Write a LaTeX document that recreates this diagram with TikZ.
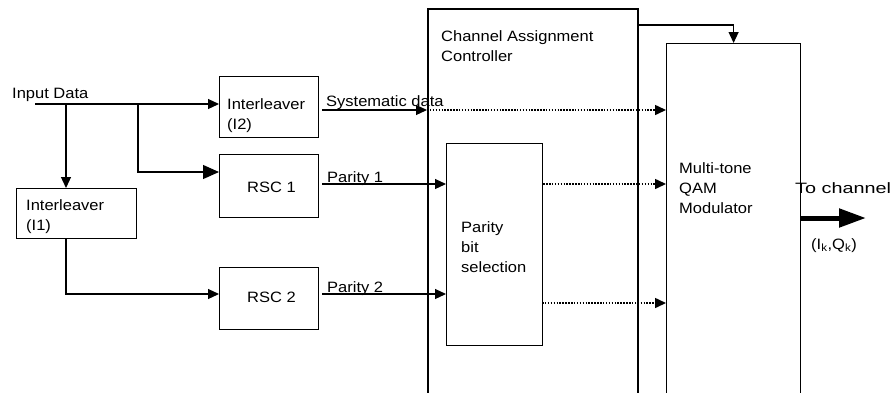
\documentclass[tikz,border=0pt]{standalone}
\usepackage{fontspec}
\setmainfont[FakeStretch=1.1]{Liberation Sans}
\usetikzlibrary{arrows.meta}
\begin{document}
\begin{tikzpicture}[x=1pt,y=-1pt,
  box/.style={draw,line width=1.2pt,inner sep=0pt,anchor=north west},
  txt/.style={inner sep=0pt,anchor=base west,align=left,font=\fontsize{15}{20}\selectfont},
  wire/.style={line width=1.2pt,-{Triangle[length=11pt,width=10pt]}},
  bigwire/.style={line width=1.2pt,-{Triangle[length=16pt,width=14pt]}},
  dotwire/.style={line width=1.5pt,dash pattern=on 1.5pt off 1.4pt,-{Triangle[length=11pt,width=10pt]}},
  outwire/.style={line width=5pt,-{Triangle[length=27pt,width=18pt]}}]
\useasboundingbox (0,0) rectangle (896,392);
% boxes
\node[box,minimum width=99pt,minimum height=61pt] (I2) at (219,76) {};
\node[box,minimum width=99pt,minimum height=63pt] (R1) at (219,154) {};
\node[box,minimum width=99pt,minimum height=62pt] (R2) at (219,267) {};
\node[box,minimum width=120pt,minimum height=50pt] (I1) at (16,188) {};
\node[box,line width=1.5pt,minimum width=210pt,minimum height=390pt] (CAC) at (427,8) {};
\node[box,minimum width=96pt,minimum height=202pt] (PBS) at (446,143) {};
\node[box,minimum width=134pt,minimum height=355pt] (MQM) at (666,43) {};
% texts (base anchor = baseline of the last line)
\node[txt] (tin) at (12,98) {Input Data};
\node[txt] (tI2) at (227,129) {Interleaver\\(I2)};
\node[txt] (tI1) at (26,230) {Interleaver\\(I1)};
\node[txt] (tR1) at (247,192) {RSC 1};
\node[txt] (tR2) at (247,302) {RSC 2};
\node[txt] (tsys) at (326,106) {Systematic data};
\node[txt] (tp1) at (327,182) {Parity 1};
\node[txt] (tp2) at (327,292) {Parity 2};
\node[txt] (tCAC) at (441,61) {Channel Assignment\\Controller};
\node[txt] (tPBS) at (461,272) {Parity\\bit\\selection};
\node[txt] (tMQM) at (679,213) {Multi-tone\\QAM\\Modulator};
\node[txt] (tch) at (795,193) {\scalebox{1.2}[1]{To channel}};
\node[txt,anchor=base] (tIQ) at (834,249) {(I\textsubscript{k},Q\textsubscript{k})};
% coordinates
\coordinate (in) at (35,104);
\coordinate (b1) at (66,104);
\coordinate (b2) at (138,104);
\coordinate (b3) at (138,172);
\coordinate (b4) at (66,294);
\coordinate (s0) at (322,110);
\coordinate (s1) at (427,110);
\coordinate (p1) at (322,184);
\coordinate (p2) at (322,294);
\coordinate (d2) at (542,303);
\coordinate (c0) at (637,25);
\coordinate (o0) at (800,218);
\coordinate (o1) at (866,218);
% connectors
\draw[wire] (in) -- (in -| I2.west);
\draw[wire] (b1) -- (b1 |- I1.north);
\draw[bigwire] (b2) -- (b3) -- (b3 -| R1.west);
\draw[wire] (b1 |- I1.south) -- (b4) -- (b4 -| R2.west);
\draw[wire] (s0) -- (s1);
\draw[dotwire] (s1) -- (s1 -| MQM.west);
\draw[wire] (p1) -- (p1 -| PBS.west);
\draw[wire] (p2) -- (p2 -| PBS.west);
\draw[dotwire] (p1 -| PBS.east) -- (p1 -| MQM.west);
\draw[dotwire] (d2) -- (d2 -| MQM.west);
\draw[wire] (c0) -- (c0 -| MQM.north) -- (MQM.north);
\draw[outwire] (o0) -- (o1);
\end{tikzpicture}
\end{document}
